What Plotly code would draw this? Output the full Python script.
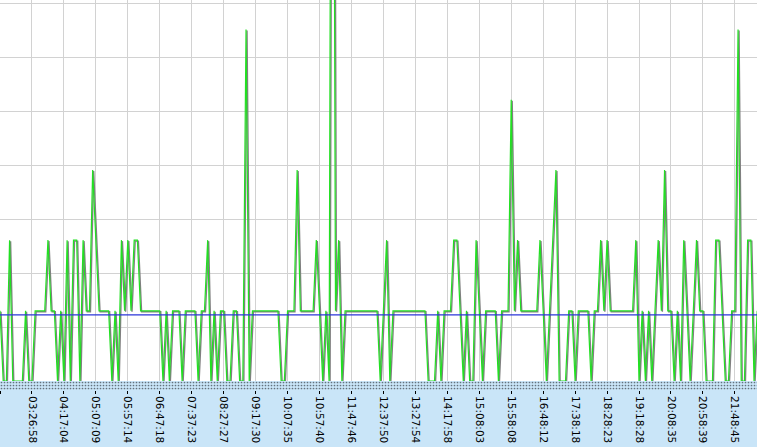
import plotly.graph_objects as go

# ---- data -------------------------------------------------------------
tick_labels = ["02:36:53", "03:26:58", "04:17:04", "05:07:09", "05:57:14", "06:47:18",
               "07:37:23", "08:27:27", "09:17:30", "10:07:35", "10:57:40", "11:47:46",
               "12:37:50", "13:27:54", "14:17:58", "15:08:03", "15:58:08", "16:48:12",
               "17:38:18", "18:28:23", "19:18:28", "20:08:35", "20:58:39", "21:48:45"]
samples_per_label = 10

values_ms = [
    15.6, 0, 0, 31.3, 0, 0, 0, 0, 15.6, 0,
    0, 15.6, 15.6, 15.6, 15.6, 31.3, 15.6, 15.6, 0, 15.6,
    0, 31.3, 0, 31.3, 31.3, 0, 31.3, 15.6, 15.6, 46.9,
    31.3, 15.6, 15.6, 15.6, 15.6, 0, 15.6, 0, 31.3, 15.6,
    31.3, 15.6, 31.3, 31.3, 15.6, 15.6, 15.6, 15.6, 15.6, 15.6,
    15.6, 0, 15.6, 0, 15.6, 15.6, 15.6, 0, 15.6, 15.6,
    15.6, 15.6, 0, 15.6, 15.6, 31.3, 0, 15.6, 0, 15.6,
    15.6, 0, 0, 15.6, 15.6, 0, 0, 78.1, 0, 15.6,
    15.6, 15.6, 15.6, 15.6, 15.6, 15.6, 15.6, 15.6, 0, 0,
    15.6, 15.6, 15.6, 46.9, 15.6, 15.6, 15.6, 15.6, 15.6, 31.3,
    15.6, 0, 15.6, 0, 250, 15.6, 31.3, 0, 15.6, 15.6,
    15.6, 15.6, 15.6, 15.6, 15.6, 15.6, 15.6, 15.6, 15.6, 0,
    15.6, 31.3, 0, 15.6, 15.6, 15.6, 15.6, 15.6, 15.6, 15.6,
    15.6, 15.6, 15.6, 15.6, 0, 0, 0, 15.6, 0, 15.6,
    15.6, 15.6, 31.3, 31.3, 15.6, 0, 15.6, 0, 0, 31.3,
    15.6, 0, 15.6, 15.6, 15.6, 15.6, 0, 15.6, 15.6, 15.6,
    62.5, 15.6, 31.3, 15.6, 15.6, 15.6, 15.6, 15.6, 15.6, 31.3,
    15.6, 0, 15.6, 31.3, 46.9, 0, 0, 0, 15.6, 15.6,
    0, 15.6, 15.6, 15.6, 15.6, 0, 15.6, 15.6, 31.3, 15.6,
    31.3, 15.6, 15.6, 15.6, 15.6, 15.6, 15.6, 15.6, 15.6, 31.3,
    0, 15.6, 0, 15.6, 0, 15.6, 31.3, 15.6, 46.9, 15.6,
    15.6, 0, 15.6, 0, 31.3, 15.6, 0, 15.6, 31.3, 15.6,
    15.6, 0, 0, 0, 31.3, 31.3, 15.6, 0, 0, 15.6,
    15.6, 78.1, 0, 0, 31.3, 31.3, 0, 15.6,
]
average_ms = 14.7

# ---- geometry / style --------------------------------------------------
W, H = 757, 447
band_px = 9            # dotted band under the plot
bottom_margin = 57
px_per_sample = 3.195
px_per_ms = 4.5
plot_h = H - bottom_margin
main_h = plot_h - band_px

x = list(range(len(values_ms)))
x_min = 0.0
x_max = x_min + W / px_per_sample
y_max = main_h / px_per_ms

tickvals = [i * samples_per_label for i in range(len(tick_labels))]

shadow_dx = 1.0 / px_per_sample
shadow_dy = 1.0 / px_per_ms

fig = go.Figure()

# dotted band (decoration)
fig.add_trace(go.Bar(
    x=[(x_min + x_max) / 2], y=[1], width=[x_max - x_min],
    xaxis="x2", yaxis="y2",
    marker=dict(color="#c9e5f8", line=dict(width=0),
                pattern=dict(shape=".", fgcolor="#000000", bgcolor="#c9e5f8",
                             size=3, solidity=0.25)),
    hoverinfo="skip", showlegend=False,
))

# gray shadow line
fig.add_trace(go.Scatter(
    x=[v + shadow_dx for v in x], y=[v - shadow_dy for v in values_ms],
    mode="lines", line=dict(color="#808080", width=1.4),
    hoverinfo="skip", showlegend=False,
))
# green line
fig.add_trace(go.Scatter(
    x=x, y=values_ms, mode="lines",
    line=dict(color="#22e022", width=1.2),
    showlegend=False,
))
# average line
fig.add_trace(go.Scatter(
    x=[x_min, x_max], y=[average_ms, average_ms], mode="lines",
    line=dict(color="#2b35d8", width=1.3),
    hoverinfo="skip", showlegend=False,
))

fig.update_layout(
    width=W, height=H,
    margin=dict(l=0, r=0, t=0, b=bottom_margin, pad=0),
    paper_bgcolor="#c9e5f8",
    plot_bgcolor="#ffffff",
    bargap=0,
    showlegend=False,
    xaxis=dict(
        domain=[0, 1], anchor="y", range=[x_min, x_max],
        tickmode="array", tickvals=tickvals, showticklabels=False,
        ticks="", showgrid=True, gridcolor="#d2d2d2", gridwidth=1,
        zeroline=False, showline=True, linecolor="#333333", linewidth=1,
        automargin=False,
    ),
    yaxis=dict(
        domain=[band_px / plot_h, 1], anchor="x", range=[0, y_max],
        tick0=0, dtick=12, showticklabels=False, ticks="",
        showgrid=True, gridcolor="#d2d2d2", gridwidth=1,
        zeroline=False, showline=True, linecolor="#1a1a1a", linewidth=2,
        automargin=False,
    ),
    xaxis2=dict(
        domain=[0, 1], anchor="y2", range=[x_min, x_max], matches="x",
        tickmode="array", tickvals=tickvals, ticktext=tick_labels,
        tickangle=90, ticks="outside", ticklen=3, tickcolor="#000000", tickwidth=1,
        tickfont=dict(family="DejaVu Sans", size=10.5, color="#000000"),
        showgrid=True, gridcolor="#000000", gridwidth=1,
        zeroline=False, showline=False, automargin=False,
    ),
    yaxis2=dict(
        domain=[0, band_px / plot_h], anchor="x2", range=[0, 1],
        showticklabels=False, ticks="", showgrid=False, zeroline=False,
        automargin=False,
    ),
)

fig.write_html("out.html",
               config={"displayModeBar": False},
               post_script="document.body.style.margin='0';document.body.style.overflow='hidden';")
